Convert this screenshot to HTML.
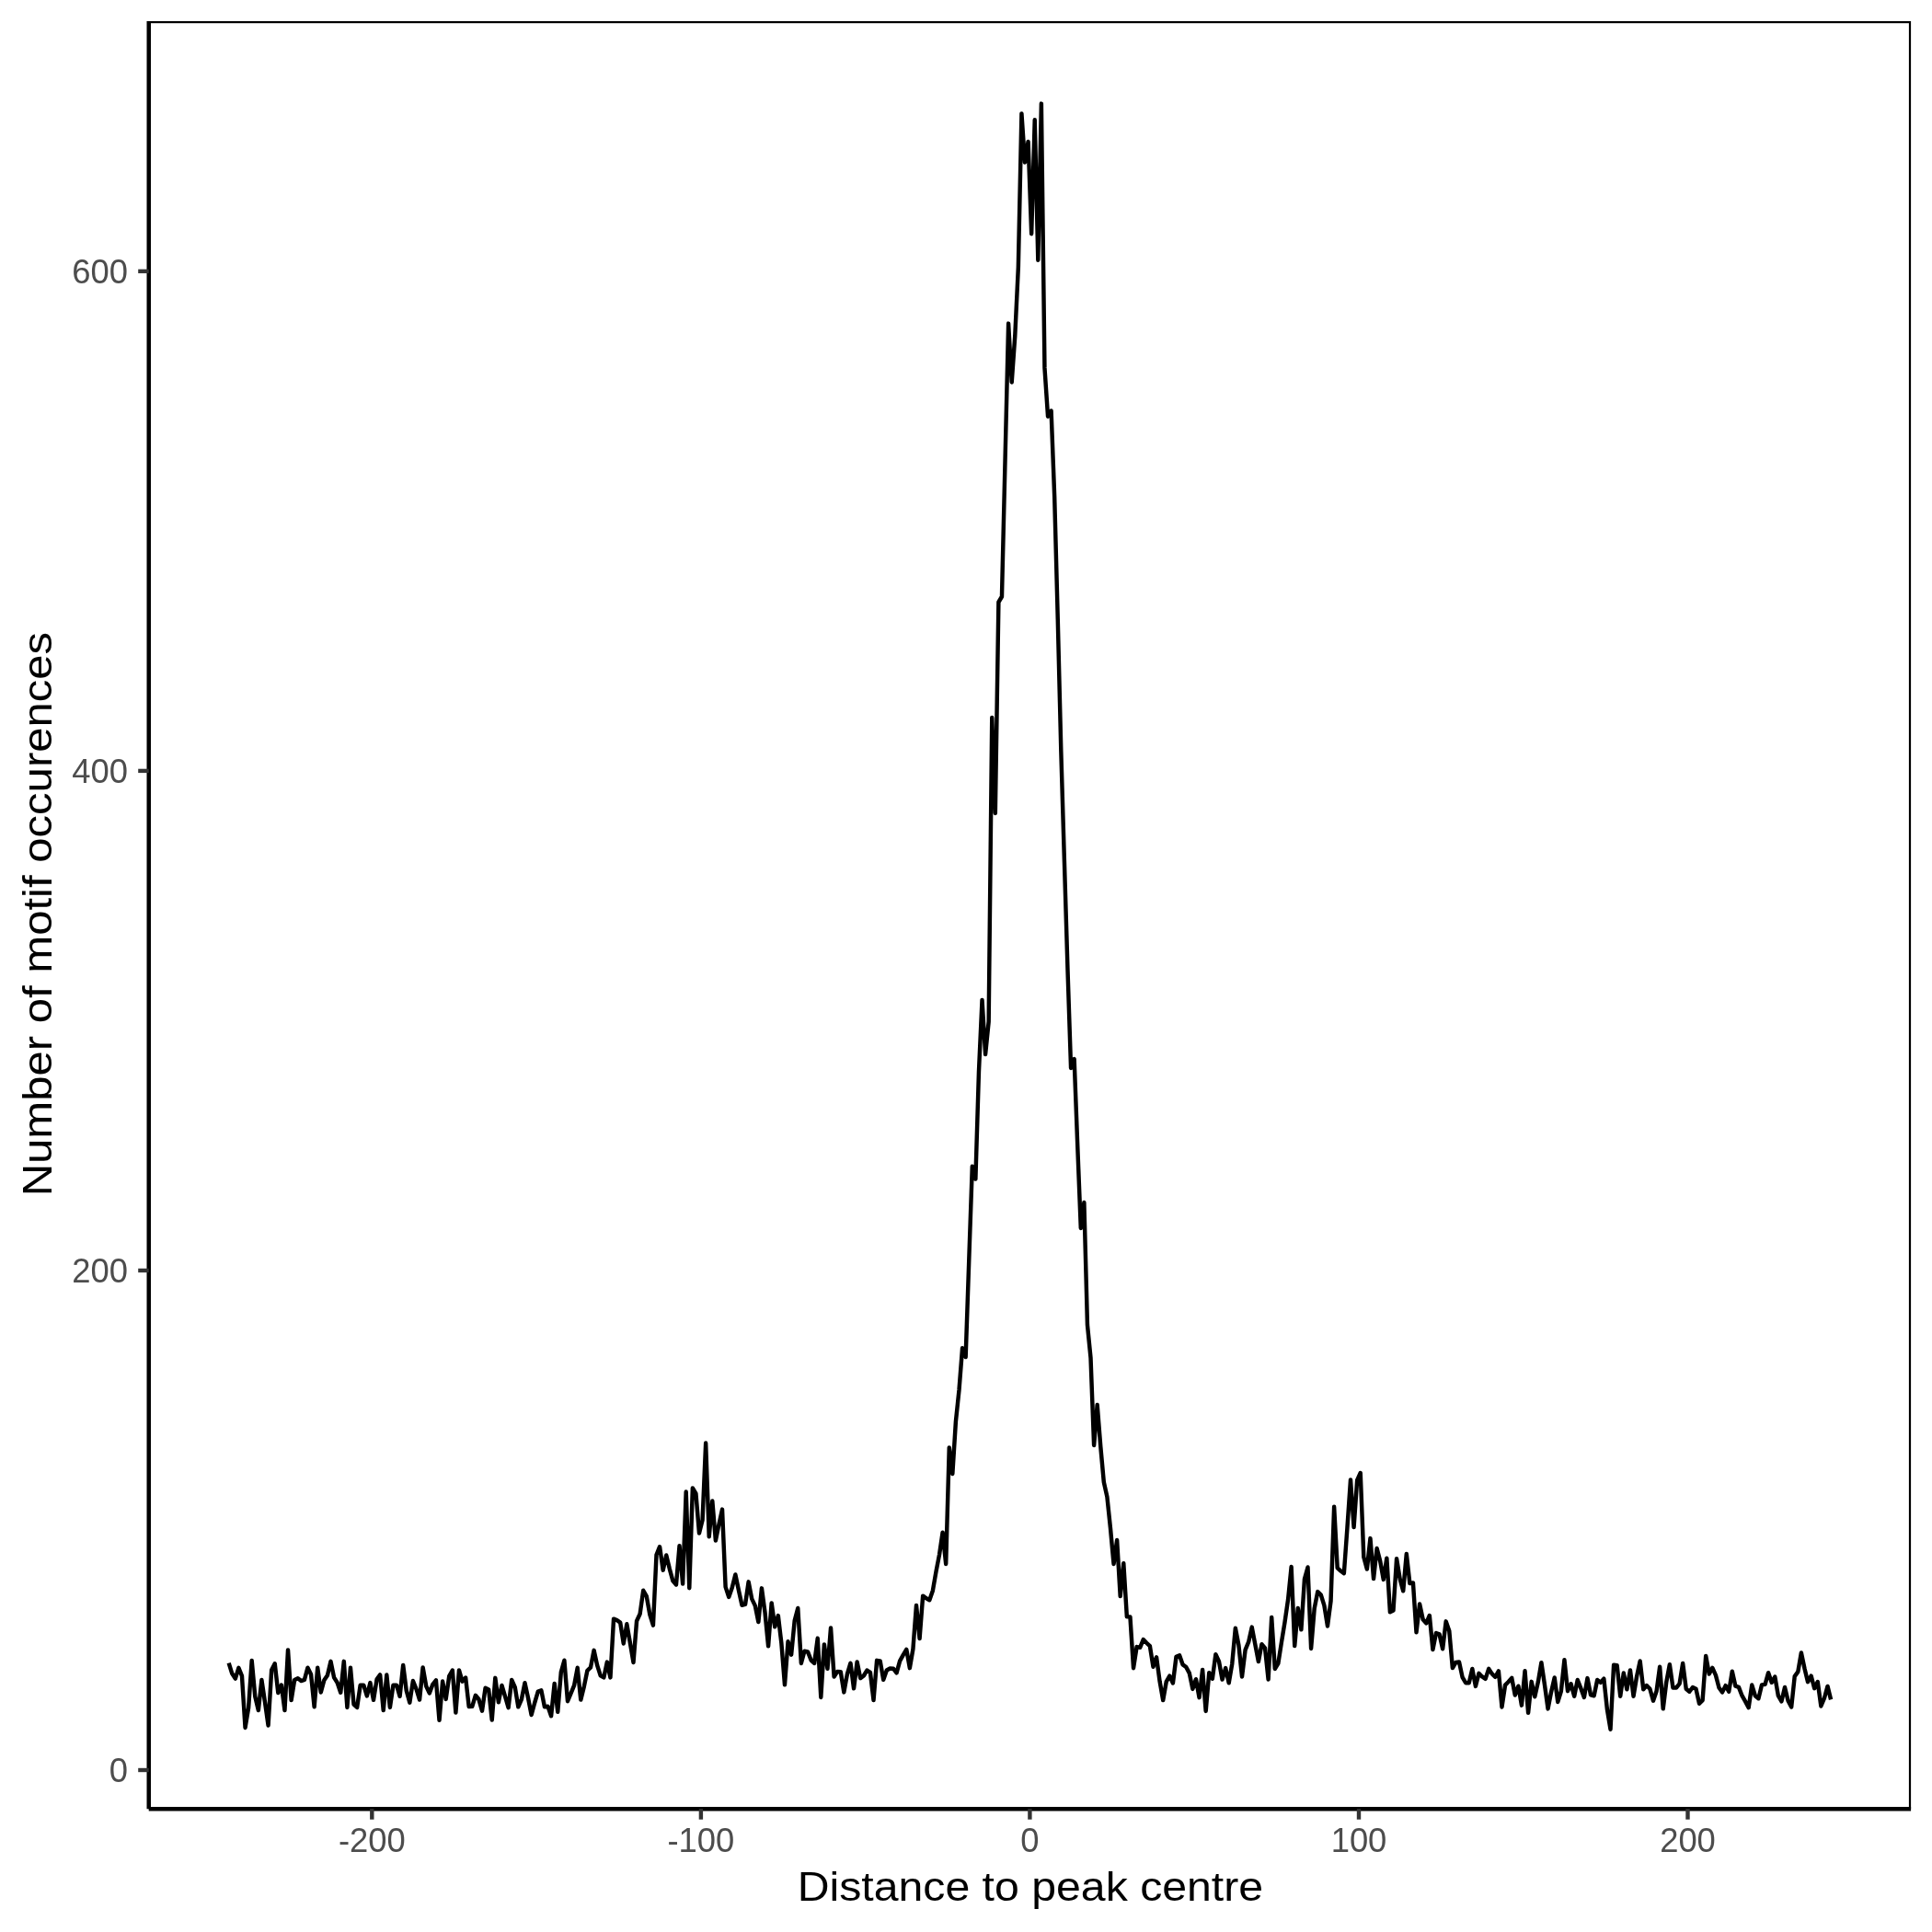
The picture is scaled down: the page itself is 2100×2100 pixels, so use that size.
<!DOCTYPE html>
<html><head><meta charset="utf-8"><style>html,body{margin:0;padding:0;background:#fff;}svg{display:block;will-change:transform;}</style></head><body>
<svg xmlns="http://www.w3.org/2000/svg" width="2100" height="2100" viewBox="0 0 2100 2100">
<rect width="2100" height="2100" fill="#fff"/>
<rect x="162.8" y="24.1" width="1913.2" height="1941" fill="none" stroke="#000" stroke-width="2.2"/>
<polyline points="248.66,1807.58 252.24,1819.07 255.81,1824.66 259.39,1812.86 262.96,1821.55 266.54,1877.95 270.11,1856.34 273.69,1804.91 277.27,1843.91 280.84,1859.01 284.42,1826.02 287.99,1850.12 291.57,1875.47 295.15,1815.34 298.72,1808.32 302.30,1840.06 305.87,1831.49 309.45,1859.01 313.02,1793.42 316.60,1848.14 320.18,1825.90 323.75,1824.16 327.33,1827.02 330.90,1825.90 334.48,1812.67 338.06,1820.00 341.63,1855.28 345.21,1812.67 348.78,1839.44 352.36,1826.21 355.93,1820.93 359.51,1805.84 363.09,1823.42 366.66,1829.01 370.24,1839.75 373.81,1805.84 377.39,1855.90 380.96,1812.67 384.54,1852.61 388.12,1855.90 391.69,1831.61 395.27,1831.61 398.84,1843.48 402.42,1829.13 406.00,1847.83 409.57,1825.28 413.15,1820.43 416.72,1859.01 420.30,1820.43 423.87,1855.90 427.45,1831.61 431.03,1831.61 434.60,1843.79 438.18,1809.88 441.75,1837.70 445.33,1850.62 448.90,1826.96 452.48,1835.84 456.06,1847.52 459.63,1812.36 463.21,1832.73 466.78,1840.37 470.36,1830.87 473.94,1826.34 477.51,1869.88 481.09,1827.58 484.66,1846.89 488.24,1821.86 491.81,1815.47 495.39,1861.49 498.97,1815.47 502.54,1827.64 506.12,1823.54 509.69,1854.97 513.27,1854.78 516.85,1842.80 520.42,1847.02 524.00,1859.63 527.57,1834.72 531.15,1836.46 534.72,1869.57 538.30,1823.85 541.88,1850.31 545.45,1831.93 549.03,1843.91 552.60,1856.21 556.18,1826.02 559.75,1833.98 563.33,1855.28 566.91,1847.02 570.48,1829.13 574.06,1845.78 577.63,1863.98 581.21,1850.75 584.79,1838.63 588.36,1837.39 591.94,1855.28 595.51,1854.78 599.09,1865.22 602.66,1829.88 606.24,1860.70 609.82,1817.64 613.39,1804.72 616.97,1849.19 620.54,1840.62 624.12,1831.93 627.69,1812.80 631.27,1847.64 634.85,1833.17 638.42,1815.78 642.00,1812.36 645.57,1793.85 649.15,1810.19 652.73,1821.37 656.30,1823.42 659.88,1806.58 663.45,1823.42 667.03,1759.69 670.60,1761.12 674.18,1763.60 677.76,1786.46 681.33,1765.28 684.91,1785.96 688.48,1806.96 692.06,1762.05 695.63,1754.29 699.21,1728.73 702.79,1735.16 706.36,1755.00 709.94,1766.60 713.51,1689.97 717.09,1681.21 720.67,1706.65 724.24,1690.53 727.82,1705.34 731.39,1718.39 734.97,1722.48 738.54,1680.28 742.12,1721.55 745.70,1621.58 749.27,1726.21 752.85,1617.39 756.42,1623.35 760.00,1666.58 763.58,1652.24 767.15,1568.48 770.73,1670.31 774.30,1631.37 777.88,1674.50 781.45,1656.83 785.03,1640.62 788.61,1724.84 792.18,1735.93 795.76,1725.78 799.33,1711.43 802.91,1728.57 806.48,1744.78 810.06,1743.94 813.64,1719.35 817.21,1737.89 820.79,1745.34 824.36,1762.95 827.94,1726.34 831.52,1752.80 835.09,1789.32 838.67,1742.42 842.24,1768.37 845.82,1756.09 849.39,1786.34 852.97,1831.30 856.55,1784.29 860.12,1798.66 863.70,1761.49 867.27,1747.95 870.85,1807.98 874.42,1794.72 878.00,1795.37 881.58,1804.53 885.15,1807.98 888.73,1780.75 892.30,1844.97 895.88,1787.42 899.46,1813.73 903.03,1769.41 906.61,1822.61 910.18,1816.93 913.76,1817.17 917.33,1839.38 920.91,1819.63 924.49,1807.76 928.06,1835.34 931.64,1806.37 935.21,1824.16 938.79,1821.49 942.37,1815.53 945.94,1817.89 949.52,1848.07 953.09,1804.84 956.67,1805.34 960.24,1825.81 963.82,1815.51 967.40,1813.48 970.97,1813.73 974.55,1818.29 978.12,1805.34 981.70,1798.82 985.27,1792.86 988.85,1813.17 992.43,1792.30 996.00,1744.88 999.58,1781.02 1003.15,1734.63 1006.73,1737.33 1010.31,1739.19 1013.88,1728.94 1017.46,1708.45 1021.03,1689.81 1024.61,1665.68 1028.18,1699.97 1031.76,1573.40 1035.34,1601.92 1038.91,1545.00 1042.49,1511.00 1046.06,1465.22 1049.64,1475.05 1053.22,1371.00 1056.79,1267.83 1060.37,1281.59 1063.94,1165.55 1067.52,1086.87 1071.09,1146.00 1074.67,1110.48 1078.25,780.00 1081.82,884.00 1085.40,654.50 1088.97,648.50 1092.55,500.00 1096.12,351.60 1099.70,415.50 1103.28,365.00 1106.85,290.00 1110.43,123.40 1114.00,176.50 1117.58,153.90 1121.16,254.20 1124.73,130.30 1128.31,282.80 1131.88,112.60 1135.46,399.90 1139.03,452.70 1142.61,446.50 1146.19,540.00 1149.76,673.00 1153.34,817.00 1156.91,936.00 1160.49,1054.00 1164.06,1161.00 1167.64,1151.00 1171.22,1245.00 1174.79,1335.00 1178.37,1307.00 1181.94,1440.00 1185.52,1476.00 1189.10,1571.00 1192.67,1527.00 1196.25,1572.00 1199.82,1611.00 1203.40,1627.00 1206.97,1661.00 1210.55,1700.00 1214.13,1674.00 1217.70,1735.00 1221.28,1699.20 1224.85,1757.36 1228.43,1757.36 1232.01,1813.17 1235.58,1790.06 1239.16,1790.81 1242.73,1782.14 1246.31,1785.78 1249.88,1789.04 1253.46,1811.77 1257.04,1801.24 1260.61,1827.70 1264.19,1848.00 1267.76,1827.80 1271.34,1821.61 1274.91,1829.55 1278.49,1800.85 1282.07,1799.33 1285.64,1809.39 1289.22,1811.96 1292.79,1818.63 1296.37,1835.92 1299.95,1825.19 1303.52,1845.16 1307.10,1814.94 1310.67,1859.90 1314.25,1818.12 1317.82,1824.74 1321.40,1798.17 1324.98,1805.98 1328.55,1825.51 1332.13,1813.07 1335.70,1829.32 1339.28,1808.32 1342.85,1769.63 1346.43,1788.45 1350.01,1822.48 1353.58,1793.42 1357.16,1784.72 1360.73,1768.63 1364.31,1787.45 1367.89,1805.96 1371.46,1787.20 1375.04,1791.43 1378.61,1825.47 1382.19,1757.93 1385.76,1813.98 1389.34,1808.20 1392.92,1785.22 1396.49,1763.48 1400.07,1738.63 1403.64,1703.04 1407.22,1789.13 1410.80,1748.00 1414.37,1771.38 1417.95,1716.46 1421.52,1703.51 1425.10,1791.93 1428.67,1748.51 1432.25,1730.06 1435.83,1733.60 1439.40,1745.09 1442.98,1767.50 1446.55,1740.12 1450.13,1637.83 1453.70,1704.40 1457.28,1707.50 1460.86,1710.20 1464.43,1660.56 1468.01,1608.39 1471.58,1660.03 1475.16,1608.82 1478.74,1600.99 1482.31,1692.48 1485.89,1705.56 1489.46,1672.11 1493.04,1716.10 1496.61,1682.98 1500.19,1696.83 1503.77,1716.89 1507.34,1693.70 1510.92,1752.30 1514.49,1750.56 1518.07,1694.16 1521.64,1716.09 1525.22,1729.32 1528.80,1688.88 1532.37,1721.06 1535.95,1720.43 1539.52,1774.35 1543.10,1743.54 1546.68,1760.19 1550.25,1764.41 1553.83,1755.96 1557.40,1792.98 1560.98,1775.00 1564.55,1776.27 1568.13,1792.24 1571.71,1762.36 1575.28,1772.80 1578.86,1813.04 1582.43,1806.96 1586.01,1806.46 1589.59,1823.11 1593.16,1829.19 1596.74,1829.32 1600.31,1813.91 1603.89,1832.92 1607.46,1818.88 1611.04,1822.48 1614.62,1824.84 1618.19,1813.91 1621.77,1819.35 1625.34,1822.80 1628.92,1816.37 1632.49,1855.53 1636.07,1831.61 1639.65,1828.04 1643.22,1823.82 1646.80,1842.48 1650.37,1832.67 1653.95,1853.66 1657.53,1816.21 1661.10,1861.74 1664.68,1827.86 1668.25,1844.35 1671.83,1828.32 1675.40,1807.20 1678.98,1831.43 1682.56,1857.39 1686.13,1838.88 1689.71,1823.48 1693.28,1849.94 1696.86,1838.26 1700.43,1804.22 1704.01,1838.14 1707.59,1830.31 1711.16,1843.73 1714.74,1825.96 1718.31,1835.16 1721.89,1844.97 1725.47,1824.10 1729.04,1842.30 1732.62,1843.23 1736.19,1825.96 1739.77,1828.79 1743.34,1824.72 1746.92,1858.14 1750.50,1879.75 1754.07,1809.81 1757.65,1810.31 1761.22,1843.73 1764.80,1818.51 1768.38,1836.27 1771.95,1815.40 1775.53,1843.73 1779.10,1822.11 1782.68,1805.47 1786.25,1836.27 1789.83,1832.05 1793.41,1835.78 1796.98,1848.70 1800.56,1838.26 1804.13,1811.68 1807.71,1857.39 1811.28,1828.32 1814.86,1809.19 1818.44,1834.53 1822.01,1834.53 1825.59,1830.19 1829.16,1807.95 1832.74,1835.78 1836.32,1838.76 1839.89,1834.04 1843.47,1835.78 1847.04,1851.80 1850.62,1848.20 1854.19,1799.88 1857.77,1819.50 1861.35,1812.92 1864.92,1820.87 1868.50,1834.53 1872.07,1839.38 1875.65,1832.17 1879.22,1838.76 1882.80,1816.65 1886.38,1832.67 1889.95,1833.91 1893.53,1843.23 1897.10,1849.44 1900.68,1856.15 1904.26,1831.55 1907.83,1843.23 1911.41,1846.21 1914.98,1831.43 1918.56,1830.81 1922.13,1818.20 1925.71,1828.82 1929.29,1822.55 1932.86,1843.23 1936.44,1849.32 1940.01,1834.04 1943.59,1848.82 1947.17,1855.53 1950.74,1822.11 1954.32,1817.14 1957.89,1796.46 1961.47,1813.42 1965.04,1828.20 1968.62,1821.61 1972.20,1835.20 1975.77,1828.10 1979.35,1854.50 1982.92,1846.00 1986.50,1832.90 1990.07,1847.40" fill="none" stroke="#000" stroke-width="4.45" stroke-linejoin="round" stroke-linecap="butt"/>
<line x1="161.7" y1="23" x2="161.7" y2="1966.2" stroke="#000" stroke-width="4.4"/>
<line x1="161.7" y1="1966.2" x2="2077.1" y2="1966.2" stroke="#000" stroke-width="4.4"/>
<line x1="150.2" y1="1924.0" x2="161.7" y2="1924.0" stroke="#333" stroke-width="4.4"/>
<line x1="150.2" y1="1380.97" x2="161.7" y2="1380.97" stroke="#333" stroke-width="4.4"/>
<line x1="150.2" y1="837.9" x2="161.7" y2="837.9" stroke="#333" stroke-width="4.4"/>
<line x1="150.2" y1="294.86" x2="161.7" y2="294.86" stroke="#333" stroke-width="4.4"/>
<line x1="404.3" y1="1966.2" x2="404.3" y2="1977.7" stroke="#333" stroke-width="4.4"/>
<line x1="761.9" y1="1966.2" x2="761.9" y2="1977.7" stroke="#333" stroke-width="4.4"/>
<line x1="1119.4" y1="1966.2" x2="1119.4" y2="1977.7" stroke="#333" stroke-width="4.4"/>
<line x1="1477.0" y1="1966.2" x2="1477.0" y2="1977.7" stroke="#333" stroke-width="4.4"/>
<line x1="1834.5" y1="1966.2" x2="1834.5" y2="1977.7" stroke="#333" stroke-width="4.4"/>
<text x="139" y="1937.0" font-family="Liberation Sans, sans-serif" font-size="36.4" fill="#4d4d4d" text-anchor="end">0</text>
<text x="139" y="1394.0" font-family="Liberation Sans, sans-serif" font-size="36.4" fill="#4d4d4d" text-anchor="end">200</text>
<text x="139" y="850.9" font-family="Liberation Sans, sans-serif" font-size="36.4" fill="#4d4d4d" text-anchor="end">400</text>
<text x="139" y="307.9" font-family="Liberation Sans, sans-serif" font-size="36.4" fill="#4d4d4d" text-anchor="end">600</text>
<text x="404.3" y="2013.0" font-family="Liberation Sans, sans-serif" font-size="36.4" fill="#4d4d4d" text-anchor="middle">-200</text>
<text x="761.9" y="2013.0" font-family="Liberation Sans, sans-serif" font-size="36.4" fill="#4d4d4d" text-anchor="middle">-100</text>
<text x="1119.4" y="2013.0" font-family="Liberation Sans, sans-serif" font-size="36.4" fill="#4d4d4d" text-anchor="middle">0</text>
<text x="1477.0" y="2013.0" font-family="Liberation Sans, sans-serif" font-size="36.4" fill="#4d4d4d" text-anchor="middle">100</text>
<text x="1834.5" y="2013.0" font-family="Liberation Sans, sans-serif" font-size="36.4" fill="#4d4d4d" text-anchor="middle">200</text>
<text x="1119.9" y="2066.1" font-family="Liberation Sans, sans-serif" font-size="44" fill="#000" text-anchor="middle" textLength="506.5" lengthAdjust="spacingAndGlyphs">Distance to peak centre</text>
<text transform="translate(56.2,993.6) rotate(-90)" x="0" y="0" font-family="Liberation Sans, sans-serif" font-size="44" fill="#000" text-anchor="middle" textLength="613.5" lengthAdjust="spacingAndGlyphs">Number of motif occurences</text>
</svg>
</body></html>
